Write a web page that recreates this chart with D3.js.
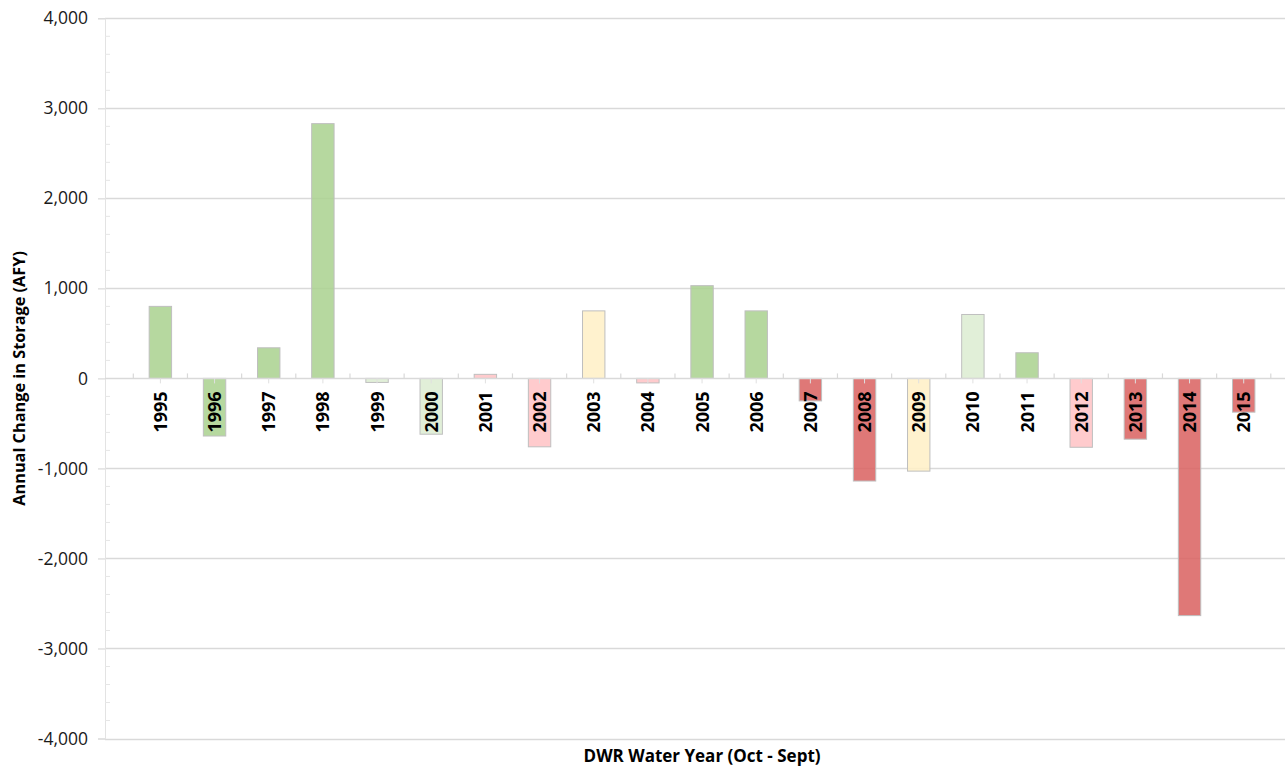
<!DOCTYPE html>
<html>
<head>
<meta charset="utf-8">
<script src="https://cdn.jsdelivr.net/npm/d3@7"></script>
<style>
  html, body { margin: 0; padding: 0; background: #ffffff; }
  svg { display: block; font-family: "Open Sans", "DejaVu Sans", sans-serif; }
</style>
</head>
<body>
<svg id="chart" width="1285" height="767"></svg>
<script>
// Annual change in groundwater storage by DWR water year
const years = ["1995","1996","1997","1998","1999","2000","2001","2002","2003","2004",
               "2005","2006","2007","2008","2009","2010","2011","2012","2013","2014","2015"];
const storageChange = [800, -640, 340, 2830, -45, -620, 45, -760, 750, -50,
                       1030, 750, -250, -1140, -1030, 710, 285, -765, -675, -2635, -375];
// Water year classification for each year
const yearType = ["Wet","Wet","Wet","Wet","Above Normal","Above Normal","Dry","Dry","Below Normal","Dry",
                  "Wet","Wet","Critical","Critical","Below Normal","Above Normal","Wet","Dry","Critical","Critical","Critical"];
const typeNames = ["Wet","Above Normal","Below Normal","Dry","Critical"];
const typeColors = ["#a9d18e","#dcecd1","#fff0c6","#ffc2c4","#d9605f"];
const yTickValues = [-4000,-3000,-2000,-1000,0,1000,2000,3000,4000];

const svg = d3.select("#chart");
const plotLeft = 105, plotRight = 1285;
const bandLeft = 133.3, bandRight = 1270.8;

const x = d3.scaleBand().domain(years).range([bandLeft, bandRight]).paddingInner(0).paddingOuter(0);
const y = d3.scaleLinear().domain([-4000, 4000]).range([738.5, 18.3]);
const color = d3.scaleOrdinal().domain(typeNames).range(typeColors);
// thousands separator with a plain hyphen for negatives
const fmt = v => d3.format(",")(v).replace("\u2212", "-");

// horizontal gridlines
svg.append("g")
  .selectAll("line")
  .data(yTickValues.filter(v => v !== 0))
  .join("line")
  .attr("x1", plotLeft).attr("x2", plotRight)
  .attr("y1", d => Math.round(y(d)) + 0.5).attr("y2", d => Math.round(y(d)) + 0.5)
  .attr("stroke", "#d9d9d9").attr("stroke-width", 1.3);

// value axis: labels, major ticks outside and minor ticks inside
const yAxis = d3.axisLeft(y).tickValues(yTickValues).tickFormat(fmt).tickSize(7).tickPadding(10);
const yg = svg.append("g").attr("transform", `translate(${plotLeft},0)`).call(yAxis);
yg.select(".domain").attr("stroke", "#e3e3e3").attr("stroke-width", 1);
yg.selectAll(".tick line").attr("stroke", "#d9d9d9").attr("stroke-width", 1.2);
yg.selectAll(".tick text").attr("font-size", 17.5).attr("fill", "#1a1a1a")
  .attr("font-family", "'Open Sans', sans-serif");

const minor = d3.range(-4000, 4001, 200).filter(v => v % 1000 !== 0);
svg.append("g")
  .selectAll("line")
  .data(minor)
  .join("line")
  .attr("x1", plotLeft).attr("x2", plotLeft + 5)
  .attr("y1", d => y(d)).attr("y2", d => y(d))
  .attr("stroke", "#e6e6e6").attr("stroke-width", 1);

// bars
const barWidth = 22.4;
svg.append("g")
  .selectAll("rect")
  .data(years)
  .join("rect")
  .attr("x", d => x(d) + x.bandwidth() / 2 - barWidth / 2)
  .attr("width", barWidth)
  .attr("y", (d, i) => y(Math.max(0, storageChange[i])))
  .attr("height", (d, i) => Math.abs(y(storageChange[i]) - y(0)))
  .attr("fill", (d, i) => color(yearType[i]))
  .attr("fill-opacity", 0.85)
  .attr("stroke", "#bfbfbf").attr("stroke-width", 1);

// category axis along zero
const y0 = y(0);
const cat = svg.append("g");
cat.append("line")
  .attr("x1", plotLeft).attr("x2", plotRight)
  .attr("y1", y0).attr("y2", y0)
  .attr("stroke", "#d9d9d9").attr("stroke-width", 1.5);
const boundaries = years.map(d => x(d)).concat([x(years[years.length - 1]) + x.bandwidth()]);
cat.selectAll("line.bnd")
  .data(boundaries)
  .join("line").attr("class", "bnd")
  .attr("x1", d => d).attr("x2", d => d)
  .attr("y1", y0).attr("y2", y0 - 5)
  .attr("stroke", "#d9d9d9").attr("stroke-width", 1.2);
cat.selectAll("line.ctr")
  .data(years)
  .join("line").attr("class", "ctr")
  .attr("x1", d => x(d) + x.bandwidth() / 2).attr("x2", d => x(d) + x.bandwidth() / 2)
  .attr("y1", y0).attr("y2", y0 + 5)
  .attr("stroke", "#e0e0e0").attr("stroke-width", 1);

// year labels, rotated to read upward
cat.selectAll("text")
  .data(years)
  .join("text")
  .attr("transform", d => `translate(${x(d) + x.bandwidth() / 2 + 6.5},${y0 + 13}) rotate(-90)`)
  .attr("text-anchor", "end")
  .attr("font-size", 18).attr("font-weight", 700).attr("fill", "#000")
  .text(d => d);

// axis titles
svg.append("text")
  .attr("transform", `translate(25,${y0}) rotate(-90)`)
  .attr("text-anchor", "middle")
  .attr("font-size", 16.3).attr("font-weight", 700).attr("fill", "#000")
  .text("Annual Change in Storage (AFY)");

svg.append("text")
  .attr("x", (bandLeft + bandRight) / 2).attr("y", 762)
  .attr("text-anchor", "middle")
  .attr("font-size", 17).attr("font-weight", 700).attr("fill", "#000")
  .text("DWR Water Year (Oct - Sept)");
</script>
</body>
</html>
